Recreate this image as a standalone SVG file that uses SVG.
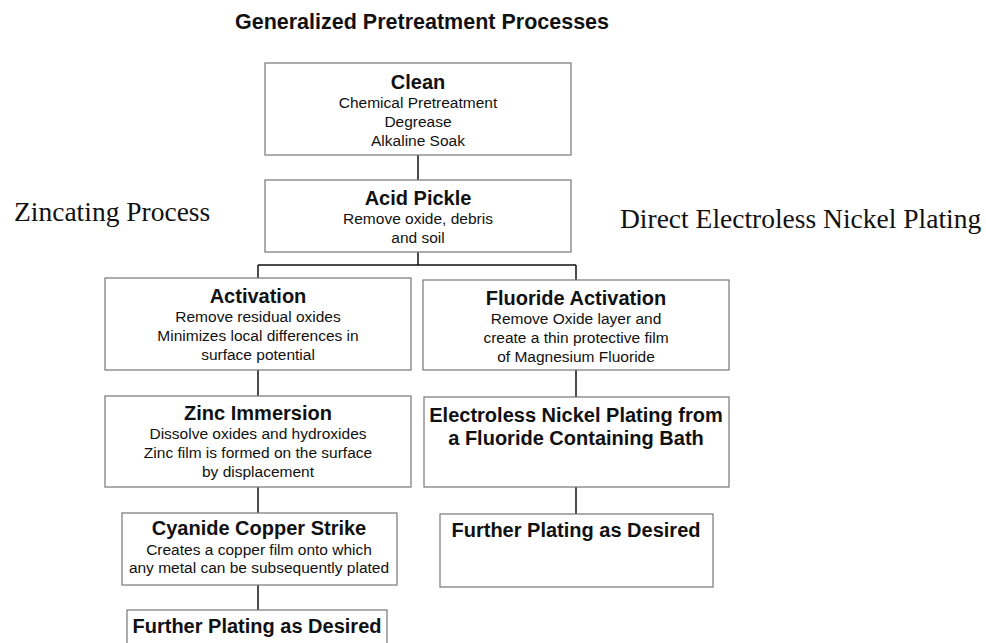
<svg xmlns="http://www.w3.org/2000/svg" width="986" height="643" viewBox="0 0 986 643">
<style>
.box{fill:#fff;stroke:#777;stroke-width:1.2}
.t{font-family:"Liberation Sans",Arial,sans-serif;font-weight:bold;font-size:20px;fill:#111;text-anchor:middle}
.s{font-family:"Liberation Sans",Arial,sans-serif;font-size:15.5px;fill:#111;text-anchor:middle}
.side{font-family:"Liberation Serif","Times New Roman",serif;font-size:27.5px;fill:#111}
.c{stroke:#111;stroke-width:1.5;fill:none}
</style>
<rect width="986" height="643" fill="#fff"/>
<text x="422" y="29" class="t" style="font-size:21.5px">Generalized Pretreatment Processes</text>
<text x="14" y="221" class="side">Zincating Process</text>
<text x="620" y="228" class="side">Direct Electroless Nickel Plating</text>
<g id="connectors">
<path class="c" d="M418 155V180"/>
<path class="c" d="M418 252V265"/>
<path class="c" d="M258 265H576"/>
<path class="c" d="M258 265V278"/>
<path class="c" d="M576 265V280"/>
<path class="c" d="M258 370V396"/>
<path class="c" d="M258 487V513"/>
<path class="c" d="M258 585V610"/>
<path class="c" d="M576 370V397"/>
<path class="c" d="M576 487V514"/>
</g>
<g id="clean">
<rect class="box" x="265" y="63" width="306" height="92"/>
<text x="418" y="89" class="t">Clean</text>
<text x="418" y="108" class="s">Chemical Pretreatment</text>
<text x="418" y="127" class="s">Degrease</text>
<text x="418" y="146" class="s">Alkaline Soak</text>
</g>
<g id="acid-pickle">
<rect class="box" x="265" y="180" width="306" height="72"/>
<text x="418" y="205" class="t">Acid Pickle</text>
<text x="418" y="224" class="s">Remove oxide, debris</text>
<text x="418" y="243" class="s">and soil</text>
</g>
<g id="activation">
<rect class="box" x="105" y="278" width="306" height="92"/>
<text x="258" y="303" class="t">Activation</text>
<text x="258" y="322" class="s">Remove residual oxides</text>
<text x="258" y="341" class="s">Minimizes local differences in</text>
<text x="258" y="360" class="s">surface potential</text>
</g>
<g id="fluoride-activation">
<rect class="box" x="423" y="280" width="306" height="90"/>
<text x="576" y="305" class="t">Fluoride Activation</text>
<text x="576" y="324" class="s">Remove Oxide layer and</text>
<text x="576" y="343" class="s">create a thin protective film</text>
<text x="576" y="362" class="s">of Magnesium Fluoride</text>
</g>
<g id="zinc-immersion">
<rect class="box" x="105" y="396" width="306" height="91"/>
<text x="258" y="420" class="t">Zinc Immersion</text>
<text x="258" y="439" class="s">Dissolve oxides and hydroxides</text>
<text x="258" y="458" class="s">Zinc film is formed on the surface</text>
<text x="258" y="477" class="s">by displacement</text>
</g>
<g id="electroless-nickel">
<rect class="box" x="424" y="397" width="305" height="90"/>
<text x="576" y="422" class="t">Electroless Nickel Plating from</text>
<text x="576" y="445" class="t">a Fluoride Containing Bath</text>
</g>
<g id="cyanide-copper">
<rect class="box" x="122" y="513" width="275" height="72"/>
<text x="259" y="535" class="t">Cyanide Copper Strike</text>
<text x="259" y="555" class="s">Creates a copper film onto which</text>
<text x="259" y="573" class="s">any metal can be subsequently plated</text>
</g>
<g id="further-left">
<rect class="box" x="127" y="610" width="260" height="50"/>
<text x="257" y="633" class="t">Further Plating as Desired</text>
</g>
<g id="further-right">
<rect class="box" x="440" y="514" width="273" height="73"/>
<text x="576" y="537" class="t">Further Plating as Desired</text>
</g>
</svg>
